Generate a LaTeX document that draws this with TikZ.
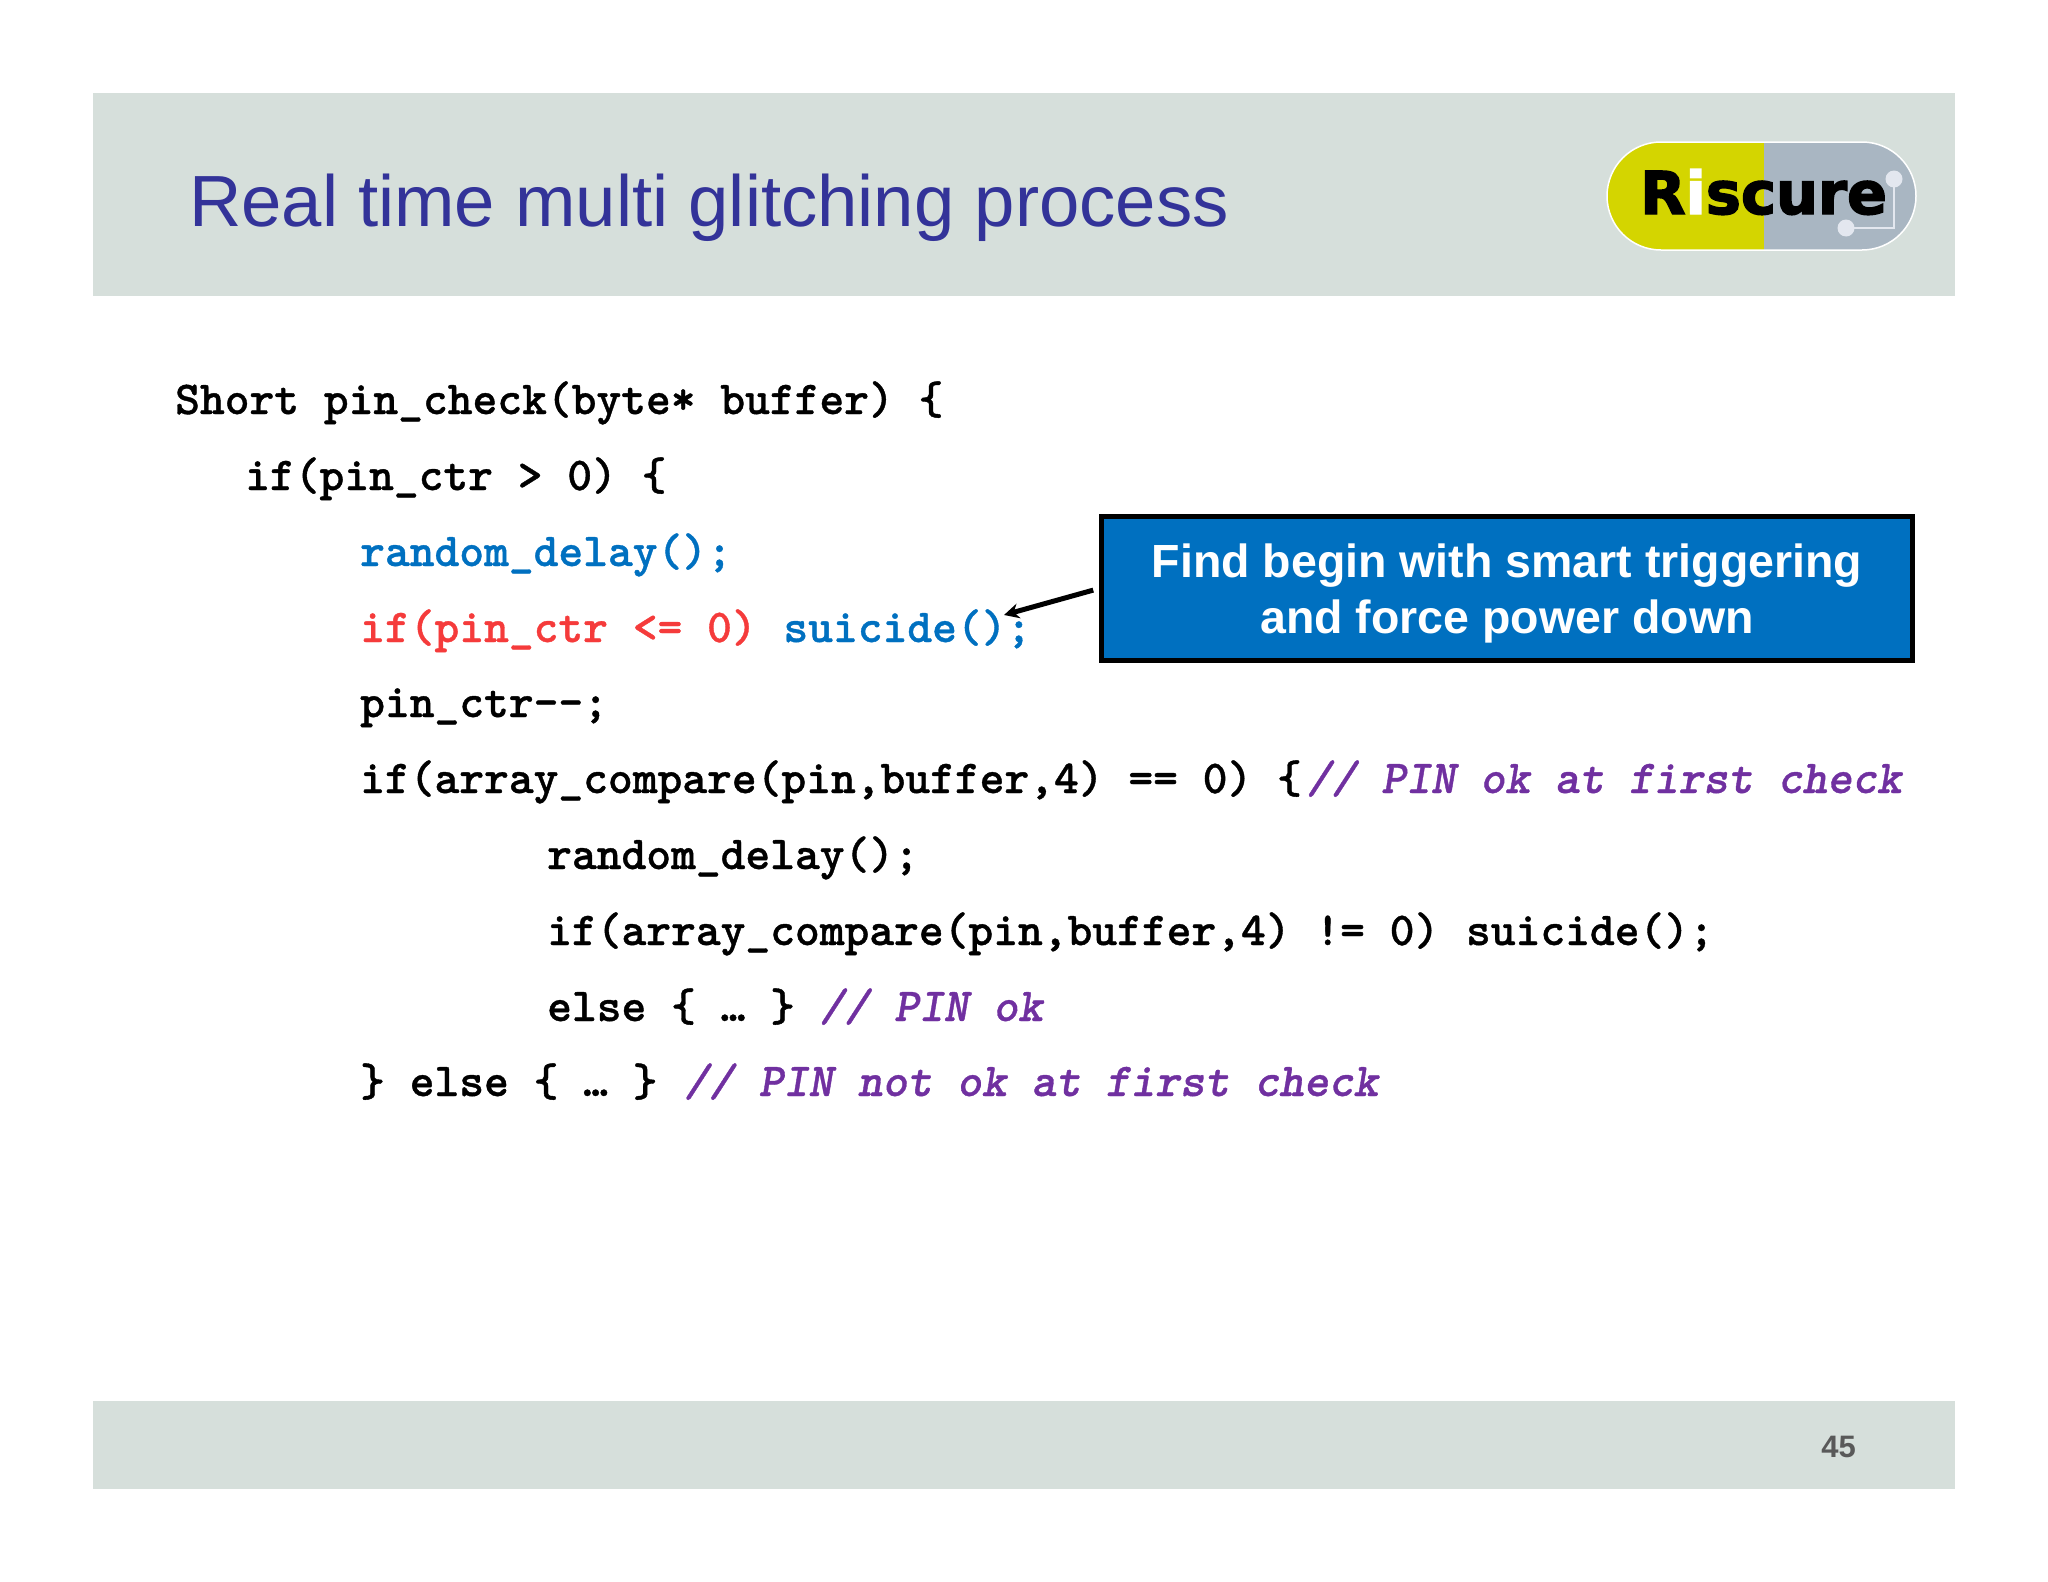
\documentclass[tikz,border=0pt]{standalone}
\usepackage{fontspec}
\setmainfont{Liberation Sans}
\setmonofont[BoldFeatures={FakeBold=0.8},BoldItalicFeatures={FakeBold=0.8}]{Latin Modern Mono Light}
\newfontfamily\logofont[FakeBold=2.5]{DejaVu Sans Bold}
\usetikzlibrary{
  arrows.meta,
  positioning,
}
\definecolor{bandgrey}{HTML}{D6DFDB}
\definecolor{titleblue}{HTML}{333399}
\definecolor{codeblue}{HTML}{0070C0}
\definecolor{codered}{HTML}{F53B3B}
\definecolor{codepurple}{HTML}{7030A0}
\definecolor{logoyellow}{HTML}{D4D500}
\definecolor{logogrey}{HTML}{A9B6C2}
\definecolor{logodot}{HTML}{E3E7EF}
\tikzset{
  >={Stealth[length=15pt,width=15pt]},
  band/.style={rectangle,fill=bandgrey,inner sep=0,minimum width=1862},
  codeline/.style={anchor=base west,inner sep=0,font=\ttfamily\fontsize{47.2}{47.2}\selectfont\bfseries},
}
\newcommand{\cmt}[1]{\textcolor{codepurple}{\itshape #1}}
\begin{document}
\begin{tikzpicture}[x=1pt,y=-1pt]
        \useasboundingbox (0,0) rectangle (2048,1582);

        \node[band,minimum height=203,anchor=north west] (headband) at (93,93) {};
        \node[band,minimum height=88,anchor=north west] (footband) at (93,1401) {};
        \node[anchor=base west,inner sep=0,text=titleblue,font=\fontsize{72.5}{72.5}\selectfont] (title) at (189,226) {Real time multi glitching process};
        \node[anchor=base east,inner sep=0,text=black!65,font=\fontsize{31}{31}\selectfont\bfseries] (pagenr) at (1856,1457) {45};

        % logo
        \begin{scope}
          \clip[rounded corners=54] (1607,142) rectangle (1916,250);
          \fill[logoyellow] (1607,142) rectangle (1764,250);
          \fill[logogrey] (1764,142) rectangle (1916,250);
        \end{scope}
        \draw[white,line width=1.5pt,rounded corners=54] (1607,142) rectangle (1916,250);
        \node[circle,fill=logodot,inner sep=0,minimum size=17] (dotA) at (1894,179) {};
        \node[circle,fill=logodot,inner sep=0,minimum size=17] (dotB) at (1846,228) {};
        \draw[logodot,line width=2pt] (dotA.center) |- (dotB.center);
        \node[anchor=base west,inner sep=0,font=\logofont\fontsize{59}{59}\selectfont] (logotext) at (1640,214) {R\textcolor{white}{i}scure};

        % code
        \node[codeline] (line1) at (175,414) {Short pin\_check(byte* buffer) \{};
        \node[codeline] (line2) at (245,490) {if(pin\_ctr > 0) \{};
        \node[codeline,text=codeblue] (line3) at (360,566) {random\_delay();};
        \node[codeline] (line4) at (360,642) {\textcolor{codered}{if(pin\_ctr <= 0)} \textcolor{codeblue}{\hspace{2pt}suicide();}};
        \node[codeline] (line5) at (360,717) {pin\_ctr{-}{-};};
        \node[codeline] (line6) at (360,793) {if(array\_compare(pin,buffer,4) == 0) \{\hspace{5pt}\cmt{// PIN ok at first check}};
        \node[codeline] (line7) at (547,869) {random\_delay();};
        \node[codeline] (line8) at (547,945) {if(array\_compare(pin,buffer,4) != 0) \hspace{2pt}suicide();};
        \node[codeline] (line9) at (547,1021) {else \{ … \} \cmt{// PIN ok}};
        \node[codeline] (line10) at (360,1096) {\} else \{ … \} \hspace{2pt}\cmt{// PIN not ok at first check}};

        % callout
        \node[rectangle,draw=black,line width=5pt,fill=codeblue,minimum width=811,minimum height=144,
              inner sep=0,anchor=north west] (callout) at (1099,514) {};
        \node[text=white,align=center,inner sep=0,yshift=-5pt,font=\fontsize{46.5}{56}\selectfont\bfseries]
              (callouttext) at (callout.center) {Find begin with smart triggering\\and force power down};
        \coordinate (arrowtip) at (1004,615);
        \draw[->,line width=5pt,shorten <=6pt] (callout.west) -- (arrowtip);

\end{tikzpicture}
\end{document}
